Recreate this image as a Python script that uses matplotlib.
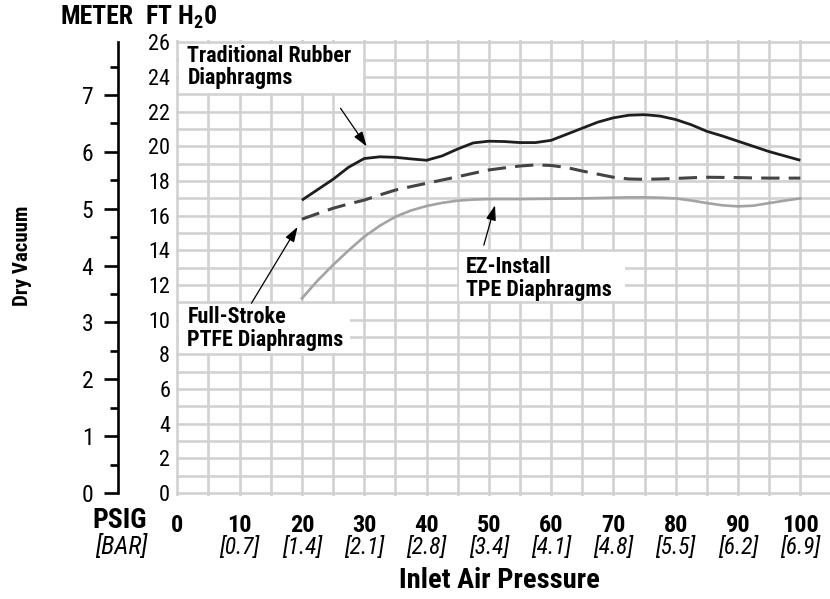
import matplotlib
matplotlib.use('Agg')
import matplotlib.pyplot as plt
from matplotlib import font_manager as fm
from matplotlib.patches import Rectangle
from matplotlib.ticker import FixedLocator, MultipleLocator
from matplotlib.transforms import blended_transform_factory

# ---------------- data ----------------
psig = [20, 22.5, 25, 27.5, 30, 32.5, 35, 37.5, 40, 42.5, 45, 47.5, 50, 52.5, 55, 57.5,
        60, 62.5, 65, 67.5, 70, 72.5, 75, 77.5, 80, 82.5, 85, 87.5, 90, 92.5, 95, 97.5, 100]
traditional = [16.9, 17.5, 18.1, 18.8, 19.3, 19.4, 19.37, 19.28, 19.2, 19.45, 19.85, 20.2, 20.3,
               20.28, 20.22, 20.22, 20.35, 20.7, 21.05, 21.4, 21.65, 21.8, 21.83, 21.75, 21.55,
               21.25, 20.87, 20.6, 20.3, 20.0, 19.7, 19.45, 19.2]
ptfe = [15.8, 16.12, 16.43, 16.68, 16.9, 17.2, 17.48, 17.68, 17.87, 18.06, 18.25, 18.45, 18.64,
        18.76, 18.87, 18.93, 18.9, 18.78, 18.58, 18.4, 18.22, 18.12, 18.1, 18.12, 18.15, 18.19,
        18.22, 18.21, 18.2, 18.18, 18.17, 18.17, 18.17]
ez = [11.23, 12.25, 13.16, 14.0, 14.79, 15.42, 15.94, 16.3, 16.56, 16.74, 16.87, 16.93, 16.96,
      16.96, 16.96, 16.97, 16.98, 16.99, 17.0, 17.02, 17.04, 17.06, 17.06, 17.04, 17.0, 16.88,
      16.73, 16.6, 16.54, 16.58, 16.73, 16.87, 17.0]

psig_ticks = [0, 10, 20, 30, 40, 50, 60, 70, 80, 90, 100]
bar_labels = ['', '[0.7]', '[1.4]', '[2.1]', '[2.8]', '[3.4]', '[4.1]', '[4.8]', '[5.5]', '[6.2]', '[6.9]']
ft_ticks = [0, 2, 4, 6, 8, 10, 12, 14, 16, 18, 20, 22, 24, 26]
meter_ticks = [0, 1, 2, 3, 4, 5, 6, 7]
meter_minor = [0.5, 1.5, 2.5, 3.5, 4.5, 5.5, 6.5, 7.5]
FT_PER_M = 3.2808

names = {f.name for f in fm.fontManager.ttflist}
FONT = next((n for n in ['Roboto Condensed', 'Archivo Narrow', 'PT Sans Narrow',
                         'Liberation Sans Narrow', 'IBM Plex Sans Condensed', 'Open Sans Condensed']
             if n in names), 'DejaVu Sans')
plt.rcParams['font.family'] = [FONT, 'DejaVu Sans']
plt.rcParams['mathtext.fontset'] = 'custom'
plt.rcParams['mathtext.rm'] = FONT + ':bold'
plt.rcParams['mathtext.bf'] = FONT + ':bold'

W, H = 830, 599
fig = plt.figure(figsize=(W / 100, H / 100), dpi=100)

X0, XS = 177.3, 6.23     # pixel of PSIG 0, pixels per PSIG
Y0, YS = 493.0, 17.33    # pixel (from top) of 0 ft, pixels per ft
xlim = (-0.25, (W - X0) / XS)
ylim = (-0.15, 26.15)
left = X0 + xlim[0] * XS
right = W
top = Y0 - ylim[1] * YS
bottom = Y0 - ylim[0] * YS
ax = fig.add_axes([left / W, 1 - bottom / H, (right - left) / W, (bottom - top) / H])
ax.set_xlim(*xlim)
ax.set_ylim(*ylim)

GRID = '#d2d2d2'
ax.set_axisbelow(True)
ax.xaxis.set_major_locator(FixedLocator(psig_ticks))
ax.xaxis.set_minor_locator(MultipleLocator(5))
ax.yaxis.set_major_locator(FixedLocator(ft_ticks))
ax.yaxis.set_minor_locator(MultipleLocator(1))
ax.grid(which='both', color=GRID, linewidth=1.9)
for s in ax.spines.values():
    s.set_visible(False)
ax.set_xticklabels([str(v) for v in psig_ticks])
ax.tick_params(axis='x', which='both', length=0, pad=13, labelsize=17.5)
for lab in ax.get_xticklabels():
    lab.set_fontweight('bold')
ax.tick_params(axis='y', which='both', length=0, pad=4, labelsize=16)

# white label boxes
for (x, y, w, h) in [(0.25, 23.1, 29.5, 2.8), (0.25, 8.1, 27.55, 2.8), (45.25, 11.1, 26.6, 2.8)]:
    ax.add_patch(Rectangle((x, y), w, h, facecolor='white', edgecolor='none', zorder=1))

# curves
ax.plot(psig, traditional, color='#1e1e1e', lw=2.0, zorder=3, solid_capstyle='butt')
ax.plot(psig, ptfe, color='#444444', lw=2.2, dashes=(6, 3), zorder=3)
ax.plot(psig, ez, color='#a3a3a3', lw=1.9, zorder=3)

tk = dict(fontsize=15.8, fontweight='bold', ha='left', va='center', linespacing=1.02, zorder=4)
ax.text(1.6, 24.58, 'Traditional Rubber\nDiaphragms', **tk)
ax.text(1.6, 9.49, 'Full-Stroke\nPTFE Diaphragms', **tk)
ax.text(46.3, 12.38, 'EZ-Install\nTPE Diaphragms', **tk)

ap = dict(arrowstyle='-|>,head_length=0.9,head_width=0.3', color='black', lw=0.9,
          mutation_scale=10, shrinkA=0, shrinkB=0)
ax.annotate('', xy=(30.4, 20.0), xytext=(26.2, 22.2), arrowprops=ap, zorder=4)
ax.annotate('', xy=(19.3, 15.35), xytext=(11.9, 10.95), arrowprops=ap, zorder=4)
ax.annotate('', xy=(51.0, 16.6), xytext=(49.2, 14.3), arrowprops=ap, zorder=4)

# bar labels under PSIG ticks
tr = blended_transform_factory(ax.transData, fig.transFigure)
for v, b in zip(psig_ticks, bar_labels):
    ax.text(v, 1 - 547 / H, b, transform=tr, ha='center', va='center', fontsize=17,
            fontstyle='italic')

# meter axis
sec = ax.secondary_yaxis((118.3 - left) / (right - left),
                         functions=(lambda f: f / FT_PER_M, lambda m: m * FT_PER_M))
sec.yaxis.set_major_locator(FixedLocator(meter_ticks))
sec.yaxis.set_minor_locator(FixedLocator(meter_minor))
sec.spines['left'].set_linewidth(1.9)
sec.spines['left'].set_bounds(0, 26 / FT_PER_M)
sec.tick_params(which='major', length=10, width=1.9, pad=8, labelsize=17)
sec.tick_params(which='minor', length=5.5, width=1.9)

def ftext(px, py, s, **kw):
    fig.text(px / W, 1 - py / H, s, **kw)

ftext(97, 17, 'METER', fontsize=18.5, fontweight='bold', ha='center', va='center')
ftext(181, 17, r'FT H$_\mathbf{2}$0', fontsize=18.5, fontweight='bold', ha='center', va='center')
ftext(22.5, 256, 'Dry Vacuum', fontsize=15, fontweight='bold', ha='center', va='center', rotation=90)
ftext(120, 521, 'PSIG', fontsize=20, fontweight='bold', ha='center', va='center')
ftext(121.5, 547, '[BAR]', fontsize=18, fontstyle='italic', ha='center', va='center')
ftext(499, 580, 'Inlet Air Pressure', fontsize=20.5, fontweight='bold', ha='center', va='center')

fig.savefig('out.png', dpi=100)
